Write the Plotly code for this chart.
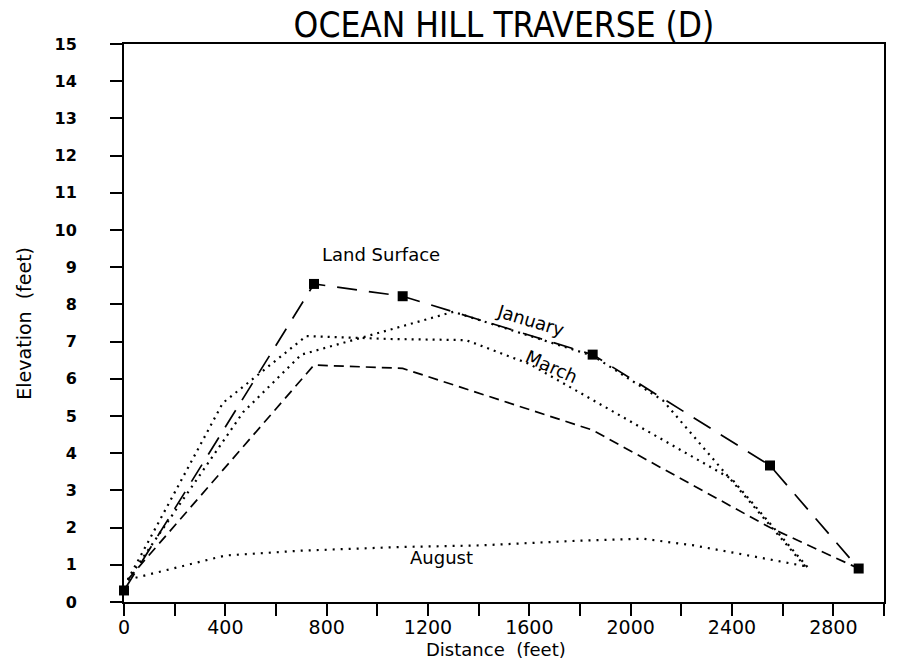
import plotly.graph_objects as go

# Traverse profile: land surface and seasonal water-table elevations (feet)
land_x = [0, 750, 1100, 1850, 2550, 2900]
land_y = [0.31, 8.55, 8.22, 6.65, 3.67, 0.90]

january_x = [15, 470, 700, 1300, 1850, 2127, 2690]
january_y = [0.60, 5.10, 6.65, 7.80, 6.62, 5.42, 0.95]

march_x = [15, 390, 720, 1050, 1350, 1600, 2400, 2700]
march_y = [0.60, 5.35, 7.15, 7.07, 7.04, 6.40, 3.30, 0.92]

dashed_x = [15, 750, 1100, 1850, 2550, 2900]
dashed_y = [0.60, 6.37, 6.28, 4.62, 2.00, 0.90]

august_x = [15, 400, 700, 1100, 1400, 1800, 2050, 2250, 2450, 2700]
august_y = [0.60, 1.25, 1.38, 1.48, 1.52, 1.65, 1.70, 1.52, 1.27, 0.95]

x_tick_vals = list(range(0, 3001, 200))
x_tick_text = [str(v) if v % 400 == 0 and v < 3000 else "" for v in x_tick_vals]
y_tick_vals = list(range(0, 16))

label_font = "DejaVu Sans"
LINE_W = 1.7

fig = go.Figure()

fig.add_trace(go.Scatter(
    x=dashed_x, y=dashed_y, mode="lines",
    line=dict(color="black", width=LINE_W, dash="10px,6px"),
    showlegend=False, hoverinfo="skip"))

fig.add_trace(go.Scatter(
    x=march_x, y=march_y, mode="lines",
    line=dict(color="black", width=LINE_W + 0.5, dash="2px,5px"),
    showlegend=False, hoverinfo="skip"))

fig.add_trace(go.Scatter(
    x=january_x, y=january_y, mode="lines",
    line=dict(color="black", width=LINE_W + 0.5, dash="2px,5px"),
    showlegend=False, hoverinfo="skip"))

fig.add_trace(go.Scatter(
    x=august_x, y=august_y, mode="lines",
    line=dict(color="black", width=LINE_W + 0.5, dash="2px,6px"),
    showlegend=False, hoverinfo="skip"))

fig.add_trace(go.Scatter(
    x=land_x, y=land_y, mode="lines+markers",
    line=dict(color="black", width=LINE_W, dash="20px,12px"),
    marker=dict(symbol="square", size=10, color="black"),
    cliponaxis=False, showlegend=False, hoverinfo="skip"))

annotations = [
    dict(text="Land Surface", x=1014, y=9.35, textangle=0),
    dict(text="January", x=1608, y=7.58, textangle=17),
    dict(text="March", x=1687, y=6.32, textangle=24),
    dict(text="August", x=1254, y=1.20, textangle=0),
]
for a in annotations:
    fig.add_annotation(
        x=a["x"], y=a["y"], xref="x", yref="y", text=a["text"],
        textangle=a["textangle"], showarrow=False,
        font=dict(family=label_font, size=18, color="black"),
        xanchor="center", yanchor="middle")

# Axis titles
fig.add_annotation(
    text="Distance  (feet)", xref="paper", yref="paper", x=0.49, y=-0.086,
    showarrow=False, xanchor="center", yanchor="middle",
    font=dict(family=label_font, size=18, color="black"))
fig.add_annotation(
    text="Elevation  (feet)", xref="paper", yref="paper", x=-0.132, y=0.5,
    textangle=-90, showarrow=False, xanchor="center", yanchor="middle",
    font=dict(family=label_font, size=19, color="black"))

fig.update_layout(
    width=898, height=662,
    margin=dict(l=124, r=14, t=44, b=60),
    paper_bgcolor="white", plot_bgcolor="white",
    title=dict(
        text="OCEAN HILL TRAVERSE (D)", x=0.5, xref="paper",
        y=1 - 25 / 662, yref="container", xanchor="center", yanchor="middle",
        font=dict(family="Liberation Sans Narrow, DejaVu Sans Condensed, sans-serif",
                  size=35, color="black")),
)

fig.update_xaxes(
    range=[0, 3000], showgrid=False, zeroline=False,
    showline=True, linecolor="black", linewidth=2, mirror=True,
    ticks="outside", ticklen=12, tickwidth=1.5, tickcolor="black",
    tickvals=x_tick_vals, ticktext=x_tick_text,
    tickfont=dict(family=label_font, size=19, color="black"),
    ticklabelstandoff=-5)

fig.update_yaxes(
    range=[0, 15], showgrid=False, zeroline=False,
    showline=True, linecolor="black", linewidth=2, mirror=True,
    ticks="outside", ticklen=12, tickwidth=1.5, tickcolor="black",
    tickvals=y_tick_vals,
    tickfont=dict(family="DejaVu Sans", size=16, color="black", weight="bold"),
    ticklabelstandoff=30)

fig.write_html("out.html")
